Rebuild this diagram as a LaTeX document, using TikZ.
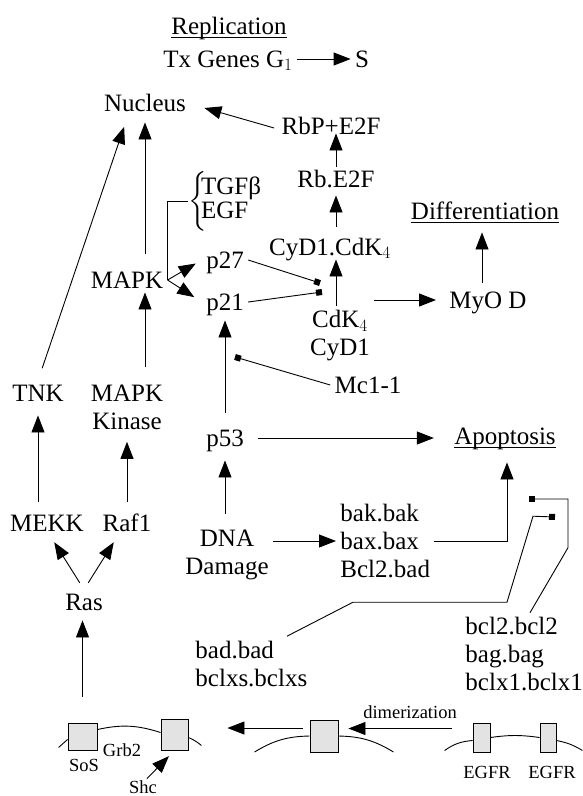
\documentclass[tikz,border=0pt]{standalone}
\usepackage{amsmath}
\usepackage{fontspec}
\setmainfont{Liberation Serif}
\usetikzlibrary{arrows.meta,calc,positioning}
\tikzstyle{txt}=[inner sep=4pt,text height=16pt,text depth=0pt,font=\fontsize{25}{28}\selectfont]
\tikzstyle{txts}=[inner sep=4pt,align=left,font=\fontsize{25}{28}\selectfont]
\tikzstyle{sm}=[inner sep=2pt,text height=12pt,text depth=0pt,font=\fontsize{18.5}{20}\selectfont]
\tikzstyle{rcpt}=[draw,fill=gray!22,inner sep=0pt]
\tikzstyle{blk}=[-{Square[length=6pt,width=6pt]}]

\begin{document}
\begin{tikzpicture}[
      x=1pt,y=-1pt,
      >={Triangle[length=17pt,width=13pt]},
      line width=0.9pt
    ]
     \useasboundingbox (0,0) rectangle (583,796);

     \node [txt] (repl) at (229,26.5) {\underline{\smash{Replication}}};
     \node [txt] (txg) at (228,59) {Tx Genes G$_1$};
     \node [txt] (s) at (362,59) {S};
     \node [txt] (nuc) at (145,103) {Nucleus};
     \node [txt] (rbp) at (331,126) {RbP+E2F};
     \node [txt] (rbe) at (336,179) {Rb.E2F};
     \node [inner sep=0pt,anchor=west,font=\fontsize{25}{28}\selectfont] (tgf) at (188,201)
        {$\bigg\{$\kern-6pt\def\arraystretch{0.82}\begin{tabular}{@{}l@{}}TGFβ\\EGF\end{tabular}};
     \node [txt] (cyc) at (330,247) {CyD1.CdK$_4$};
     \node [txt] (diff) at (485,211) {\underline{Differentiation}};
     \node [txt] (p27) at (225,260) {p27};
     \node [txt] (mapk) at (127,280) {MAPK};
     \node [txt] (p21) at (225,302) {p21};
     \node [txt] (myod) at (488,300) {MyO D};
     \node [txts,align=center] (cdk) at (340,336) {CdK$_4$\\CyD1};
     \node [txt] (mc) at (368,385) {Mc1-1};
     \node [txt] (tnk) at (38,393) {TNK};
     \node [txts,align=center] (mapkk) at (127,407) {MAPK\\Kinase};
     \node [txt] (p53) at (225,438) {p53};
     \node [txt] (apop) at (505,436) {\underline{\smash{Apoptosis}}};
     \node [txt] (mekk) at (47,523) {MEKK};
     \node [txt] (raf) at (127,523) {Raf1};
     \node [txts,anchor=west] (bak) at (336,541) {bak.bak\\bax.bax\\Bcl2.bad};
     \node [txts,align=center] (dna) at (227,555) {DNA\\Damage};
     \node [txt] (ras) at (84,602) {Ras};
     \node [txts,anchor=west] (bclg) at (461,654) {bcl2.bcl2\\bag.bag\\bclx1.bclx1};
     \node [txts,anchor=west] (badg) at (191,663.5) {bad.bad\\bclxs.bclxs};

     \node [rcpt,minimum width=29pt,minimum height=27pt] (sq1) at (82.5,736.5) {};
     \node [rcpt,minimum width=27pt,minimum height=31pt] (sq2) at (174.5,734.5) {};
     \node [rcpt,minimum width=28pt,minimum height=32pt] (msq) at (324,736) {};
     \node [rcpt,minimum width=17pt,minimum height=29pt] (egfa) at (481.5,737.5) {};
     \node [rcpt,minimum width=16pt,minimum height=29pt] (egfb) at (548,737.5) {};
     \node [sm] (sos) at (84,765) {SoS};
     \node [sm] (grb) at (122,750) {Grb2};
     \node [sm] (shc) at (143,787) {Shc};
     \node [sm] (dim) at (410,712) {dimerization};
     \node [sm] (egfra) at (487,772) {EGFR};
     \node [sm] (egfrb) at (552,772) {EGFR};

     \coordinate (inh1) at (320,283);
     \coordinate (inh2) at (322,292);
     \coordinate (inh3) at (235,357);
     \coordinate (inh4) at (529,499);
     \coordinate (inh5) at (555,517);

      \draw[->] (txg) -- (s);
      \draw[->] ([xshift=-3pt,yshift=-2pt]rbp.west) -- ([xshift=14pt,yshift=-5pt]nuc.east);
      \draw[->] (rbe.north) -- ([yshift=5pt]rbe.north |- rbp.south);
      \draw[->,shorten <=8pt,shorten >=4pt] (cyc.north -| rbe.north) -- (rbe.south);
      \draw[->] (cdk.north -| rbe.north) -- (cyc.south -| rbe.north);
      \draw[->,shorten >=9pt] (myod.west -| cdk.east) -- (myod.west);
      \draw[->,shorten <=5pt,shorten >=9pt] ([xshift=-6pt]myod.north) -- ([xshift=-6pt]myod.north |- diff.south);
      \draw[blk] (p27.east) -- (inh1);
      \draw[blk] (p21.east) -- (inh2);
      \draw (tgf.west) -| (mapk.east);
      \draw[->,shorten >=7pt] (mapk.east) -- (p27.west);
      \draw[->,shorten >=9pt] (mapk.east) -- (p21.west);
      \draw[->,shorten <=14pt,shorten >=7pt] (mapk.north -| nuc.south) -- (nuc.south);
      \draw[->,shorten <=13pt] (mapkk.north -| nuc.south) -- (mapk.south -| nuc.south);
      \draw[->,shorten <=13pt,shorten >=12pt] (tnk.north) -- ([xshift=-17pt]nuc.south);
      \draw[->,shorten <=9pt,shorten >=8pt] (raf.north) -- (mapkk.south);
      \draw[->,shorten <=9pt,shorten >=10pt] (mekk.north -| tnk.south) -- (tnk.south);
      \draw[->,shorten <=8pt,shorten >=8pt] (ras.north) -- ([xshift=3pt]mekk.south);
      \draw[->,shorten <=8pt,shorten >=8pt] (ras.north) -- ([xshift=-9pt]raf.south);
      \draw[->,shorten <=26pt,shorten >=6pt] (sq1.north) -- (sq1.north |- ras.south);
      \draw[blk] (mc.west) -- (inh3);
      \draw[->,shorten <=13pt,shorten >=6pt] (p53.north) -- (p21.south);
      \draw[->,shorten <=12pt,shorten >=10pt] (dna.north -| p53.south) -- (p53.south);
      \draw[->,shorten <=10pt,shorten >=16pt] (p53.east) -- (p53.east -| apop.west);
      \draw[->] (dna.east |- bak.west) -- (bak.west);
      \draw[->,shorten >=14pt] (bak.east) -| ([xshift=2pt]apop.south);
      \draw[blk] ([xshift=69pt]bclg.north west) -- ++(38,-65) |- (inh4);
      \draw[blk] ([xshift=96pt]badg.north west) -- ++(66,-34) -- ++(154,0) -- ++(26,-86) -- (inh5);

      \draw[->,shorten <=7pt,shorten >=39pt] ([yshift=8pt]msq.west) -- ([yshift=8pt]msq.west -| sq2.east);
      \draw[->,shorten <=21pt,shorten >=10pt] ([yshift=9pt]egfa.west) -- ([yshift=9pt]egfa.west -| msq.east);
      \draw[->,shorten >=8pt] ([xshift=4pt]shc.north) -- (sq2.south);

      \draw ([yshift=-3pt]sq1.west) -- ++(-9,8);
      \draw ([yshift=7pt]sq1.east) to[bend left=15] ([yshift=2pt]sq2.west);
      \draw ([yshift=-3pt]sq2.east) to[bend left=8] ++(13,8);
      \draw ([xshift=-55pt,yshift=-16pt]msq.west) to[bend left=15] (msq.west);
      \draw (msq.east) to[bend left=15] ([xshift=55pt,yshift=-16pt]msq.east);
      \draw ([xshift=-28pt,yshift=-13pt]egfa.west) to[bend left=15] ([yshift=-3pt]egfa.west);
      \draw (egfa.east) to[bend left=8] (egfb.west);
      \draw ([yshift=-3pt]egfb.east) to[bend left=10] ++(26,10);
    \end{tikzpicture}
\end{document}
